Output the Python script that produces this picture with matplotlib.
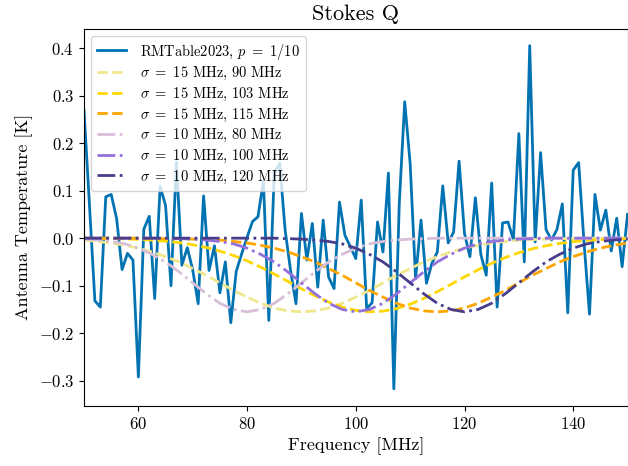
"""
Stokes Q : bruit RMTable2023 et modèles gaussiens
"""

import numpy as np
import matplotlib

matplotlib.use("Agg")
import matplotlib.pyplot as plt

# Police type LaTeX (Computer Modern)
plt.rcParams["font.family"] = "serif"
plt.rcParams["font.serif"] = ["cmr10"]
plt.rcParams["mathtext.fontset"] = "cm"
plt.rcParams["axes.formatter.use_mathtext"] = True

# Courbe RMTable2023 (pas de 1 MHz, 50 -> 150 MHz)
freq_rm = np.arange(50, 151)
temp_rm = [
    0.268, 0.07, -0.132, -0.145, 0.087, 0.092, 0.041, -0.066, -0.032, -0.046,
    -0.292, 0.019, 0.046, -0.127, 0.109, 0.069, -0.1, 0.16, -0.057, -0.02,
    -0.067, -0.138, 0.089, -0.068, -0.016, -0.115, -0.05, -0.178, -0.07, -0.033,
    0.002, 0.035, 0.045, 0.12, -0.173, 0.137, 0.158, 0.017, -0.068, -0.138,
    0.052, -0.046, 0.031, -0.103, 0.038, -0.082, -0.106, 0.076, 0.006, -0.018,
    -0.043, 0.08, -0.148, -0.136, 0.034, -0.029, 0.137, -0.317, 0.073, 0.287,
    0.157, -0.085, 0.038, -0.095, -0.053, -0.029, 0.11, -0.01, 0.013, 0.162,
    0.01, -0.039, 0.085, -0.034, -0.078, 0.116, -0.145, 0.032, 0.034, -0.003,
    0.22, -0.05, 0.405, -0.008, 0.18, 0.018, -0.004, 0.018, 0.072, -0.157,
    0.143, 0.159, -0.011, -0.16, 0.092, 0.017, 0.059, -0.027, 0.042, -0.06,
    0.05,
]

# Modèles gaussiens (pas de 2.5 MHz, 50 -> 150 MHz)
freq_model = np.linspace(50, 150, 41)
s15_90 = [
    -0.004, -0.007, -0.010, -0.015, -0.021, -0.029, -0.039, -0.050, -0.064, -0.078,
    -0.094, -0.110, -0.124, -0.137, -0.147, -0.153, -0.155, -0.153, -0.147, -0.137,
    -0.124, -0.110, -0.094, -0.078, -0.064, -0.050, -0.039, -0.029, -0.021, -0.015,
    -0.010, -0.007, -0.004, -0.003, -0.002, -0.001, -0.001, 0.0, 0.0, 0.0,
    0.0,
]
s15_103 = [
    -0.0003, -0.0005, -0.0009, -0.0016, -0.0025, -0.004, -0.0063, -0.0094, -0.0138, -0.0196,
    -0.0272, -0.0365, -0.0478, -0.0609, -0.0755, -0.0909, -0.1065, -0.1213, -0.1344, -0.1449,
    -0.1519, -0.1549, -0.1536, -0.1482, -0.139, -0.1268, -0.1125, -0.0972, -0.0815, -0.0666,
    -0.0529, -0.0408, -0.0307, -0.0224, -0.0159, -0.011, -0.0074, -0.0048, -0.0031, -0.0019,
    -0.0011,
]
s15_115 = [
    0.0, 0.0, 0.0, 0.0, 0.0, -0.0003, -0.001, -0.001, -0.002, -0.003,
    -0.004, -0.007, -0.010, -0.015, -0.021, -0.029, -0.039, -0.050, -0.064, -0.078,
    -0.094, -0.110, -0.124, -0.137, -0.147, -0.153, -0.155, -0.153, -0.147, -0.137,
    -0.124, -0.110, -0.094, -0.078, -0.064, -0.050, -0.039, -0.029, -0.021, -0.015,
    -0.010,
]
s10_80 = [
    -0.002, -0.004, -0.007, -0.012, -0.021, -0.034, -0.050, -0.071, -0.094, -0.117,
    -0.137, -0.150, -0.155, -0.150, -0.137, -0.117, -0.094, -0.071, -0.050, -0.034,
    -0.021, -0.012, -0.007, -0.004, -0.002, -0.001, 0.0, 0.0, 0.0, 0.0,
    0.0, 0.0, 0.0, 0.0, 0.0, 0.0, 0.0, 0.0, 0.0, 0.0,
    0.0,
]
s10_100 = [
    0.0, 0.0, 0.0, 0.0, 0.0, 0.0, 0.0, -0.001, -0.002, -0.004,
    -0.007, -0.012, -0.021, -0.034, -0.050, -0.071, -0.094, -0.117, -0.137, -0.150,
    -0.155, -0.150, -0.137, -0.117, -0.094, -0.071, -0.050, -0.034, -0.021, -0.012,
    -0.007, -0.004, -0.002, -0.001, 0.0, 0.0, 0.0, 0.0, 0.0, 0.0,
    0.0,
]
s10_120 = [
    0.0, 0.0, 0.0, 0.0, 0.0, 0.0, 0.0, 0.0, 0.0, 0.0,
    0.0, 0.0, 0.0, 0.0, 0.0, -0.001, -0.002, -0.004, -0.007, -0.012,
    -0.021, -0.034, -0.050, -0.071, -0.094, -0.117, -0.137, -0.150, -0.155, -0.150,
    -0.137, -0.117, -0.094, -0.071, -0.050, -0.034, -0.021, -0.012, -0.007, -0.004,
    -0.002,
]

models = [
    (s15_90, r"$\sigma\ =\ 15$ MHz, 90 MHz", "#f0e68c", "--"),
    (s15_103, r"$\sigma\ =\ 15$ MHz, 103 MHz", "#ffd700", "--"),
    (s15_115, r"$\sigma\ =\ 15$ MHz, 115 MHz", "#ffa500", "--"),
    (s10_80, r"$\sigma\ =\ 10$ MHz, 80 MHz", "#d8bfd8", "-."),
    (s10_100, r"$\sigma\ =\ 10$ MHz, 100 MHz", "#9370db", "-."),
    (s10_120, r"$\sigma\ =\ 10$ MHz, 120 MHz", "#483d8b", "-."),
]

fig = plt.figure(figsize=(6.28, 4.66), dpi=100)
ax = fig.add_axes([0.1338, 0.1288, 0.8655, 0.81])

ax.plot(freq_rm, temp_rm, color="#0173b2", linewidth=2, label=r"RMTable2023, $p\ =\ 1/10$")
for values, label, color, style in models:
    ax.plot(freq_model, values, style, color=color, linewidth=2, label=label)

ax.set_xlim(50, 150)
ax.set_xlabel("Frequency [MHz]", fontsize=13)
ax.set_ylabel("Antenna Temperature [K]", fontsize=13)
ax.set_title("Stokes Q", fontsize=16)
ax.tick_params(labelsize=12)
ax.legend(loc="upper left", fontsize=10.4, labelspacing=0.25, handletextpad=1.0)

fig.savefig("out.png", dpi=100)
